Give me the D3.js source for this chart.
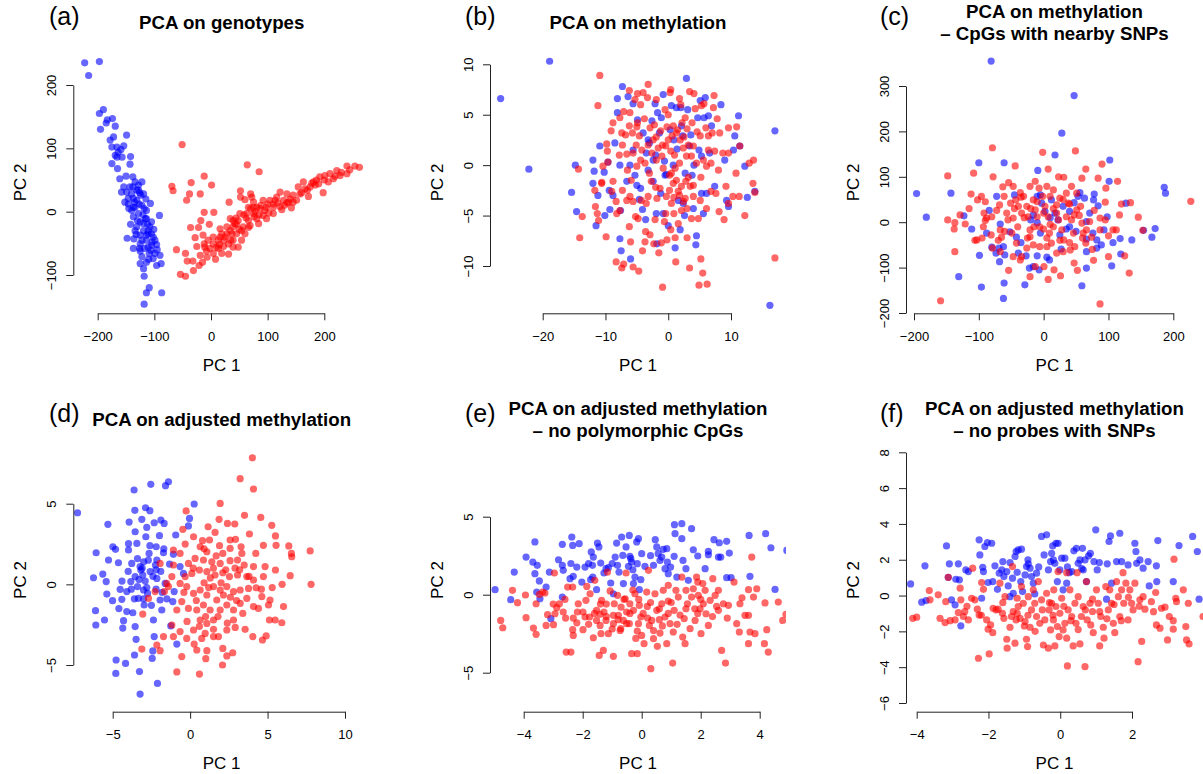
<!DOCTYPE html>
<html>
<head>
<meta charset="utf-8">
<script src="https://cdn.jsdelivr.net/npm/d3@7"></script>
<style>
  body { margin: 0; background: #fff; }
  svg text { font-family: "Liberation Sans", Arial, Helvetica, sans-serif; fill: #000; }
</style>
</head>
<body>
<svg id="chart" width="1203" height="774"></svg>
<script>
// (a) PCA on genotypes  -- [PC1, PC2]
const genoBlue = [[-223,235],[-197,237],[-216,215],[-190,161],[-197,155],[-195,130],[-183,145],[-174,147],[-169,135],[-172,118],[-175,102],[-149,121],[-154,104],[-164,94],[-166,86],[-175,76],[-142,87],[-143,75],[-165,68],[-150,56],[-138,55],[-122,47],[-154,39],[-138,39],[-131,34],[-149,31],[-124,26],[-137,21],[-152,15],[-146,12],[-134,7],[-107,13],[-118,5],[-128,-3],[-137,-8],[-91,-6],[-114,-11],[-125,-16],[-105,-16],[-131,-24],[-119,-30],[-101,-28],[-111,-35],[-125,-37],[-136,-43],[-148,-42],[-102,-40],[-114,-45],[-125,-51],[-105,-53],[-96,-52],[-137,-58],[-117,-58],[-109,-66],[-90,-69],[-122,-71],[-102,-74],[-114,-80],[-88,-82],[-96,-85],[-125,-82],[-119,-90],[-118,-102],[-109,-120],[-114,-128],[-87,-128],[-118,-146],[-143,39],[-134,47],[-128,42],[-140,28],[-131,18],[-122,10],[-114,2],[-130,-14],[-119,-19],[-108,-24],[-134,-30],[-114,-37],[-99,-45],[-122,-45],[-106,-61],[-99,-66],[-111,-56],[-126,-58],[-140,2],[-146,21],[-158,31],[-161,52],[-169,89],[-159,98],[-178,113],[-185,140],[-166,102],[-157,86],[-137,7],[-119,28],[-128,34],[-105,-35],[-111,-30],[-116,-11],[-127,12],[-120,-5],[-112,-20],[-104,-48],[-132,-36],[-142,-20],[-125,-62],[-110,-75],[-95,-60],[-135,15],[-145,5],[-126,30],[-115,20]];
const genoRed = [[-51,106],[-69,40],[-67,33],[-35,46],[-12,56],[1,42],[-38,28],[-19,28],[-43,18],[64,74],[85,63],[-12,-1],[5,-1],[32,15],[52,23],[70,28],[-18,-14],[-36,-25],[-22,-25],[-3,-20],[16,-27],[-28,-41],[-14,-37],[4,-40],[-61,-60],[-45,-66],[-42,-78],[-32,-78],[-19,-69],[-21,-85],[-31,-93],[-54,-99],[-45,-102],[-7,-72],[4,-66],[13,-58],[31,-67],[39,-56],[28,-35],[39,-24],[48,-14],[57,-24],[45,-35],[39,-45],[34,-11],[51,-3],[66,-14],[75,-3],[87,5],[98,7],[110,-3],[92,18],[104,18],[116,23],[128,18],[134,28],[145,26],[142,6],[157,28],[154,39],[163,47],[175,39],[181,47],[192,55],[201,57],[210,60],[219,56],[222,65],[240,72],[240,60],[254,72],[262,70],[207,47],[198,30],[172,24],[75,15],[81,7],[66,7],[63,-3],[81,-11],[92,-6],[110,12],[122,8],[134,14],[145,15],[75,7],[60,-35],[54,-45],[19,-66],[10,-56],[-2,-58],[-11,-56],[-12,-51],[16,-40],[23,-45],[37,-35],[42,-19],[54,-30],[69,-22],[84,-19],[98,-11],[110,7],[125,3],[72,23],[52,33],[60,19],[151,18],[166,36],[186,50],[216,52],[228,57],[184,42],[113,18],[122,31],[137,15],[34,-30],[28,-24],[39,-14],[19,-35],[4,-51],[13,-45],[31,-51],[48,-56],[45,-20],[62,-10],[78,0],[95,2],[88,10],[102,-2],[118,14],[130,10],[58,-5],[70,5],[85,-5],[100,12],[140,20],[160,30],[170,34],[190,44],[200,50],[178,45],[230,62],[245,66],[35,-45],[25,-40],[50,-28],[15,-52],[-5,-45],[-8,-62],[-25,-55],[-15,-80],[8,-75],[22,-55],[44,-10],[66,-25],[76,-8]];
const genoXTicks = [-200, -100, 0, 100, 200];
const genoYTicks = [-100, 0, 100, 200];

// (b) PCA on methylation
const methBlue = [[-26.7,6.6],[-18.9,10.3],[-22.2,-0.4],[-15.4,-2.7],[-14.8,0],[-14.6,-4.6],[-12,0.5],[-11.8,-0.6],[-12,-1.8],[-11.5,-6],[-11.2,-3],[-10.9,1.9],[-10.2,-0.7],[-10.1,-5],[-9.4,-2.5],[-9.6,0.3],[-9.3,-4.4],[-8.1,5.2],[-8.1,6.6],[-8.5,2.2],[-7.7,0],[-7.6,-4.5],[-7.5,-8.5],[-7.7,-7.3],[-7.3,7.8],[-6.6,-1.6],[-6.4,6.8],[-6.1,0],[-6,-9.3],[-5.6,6.1],[-5.3,-1],[-5.6,1.5],[-4.9,4.5],[-4.6,-3.4],[-4.4,-2.3],[-4.1,-4.4],[-4,3.2],[-3.5,1.2],[-3.2,2.5],[-3.2,-0.5],[-3,2.2],[-2.4,0.5],[-2.1,6.1],[-2.4,-1.6],[-1.9,-4.8],[-1.8,-7.8],[-1.7,5.2],[-1.4,3.2],[-1.1,4.7],[-0.8,7],[-0.8,-4.8],[-0.5,-1],[-0.3,-0.9],[0,-6],[0.3,3.5],[0.5,5.9],[0.9,2.5],[1.1,-8.2],[1.3,5.7],[1.6,-3.5],[1.9,-6.4],[2,5.7],[2.1,3.9],[2.3,2.9],[2.4,-3.8],[2.7,-0.8],[2.9,8.6],[3.1,5.5],[3.4,1.9],[3.6,3],[4,-4.3],[4.1,0],[4.4,-7.9],[4.5,-7],[4.7,4.7],[4.9,1.5],[5.1,6.4],[5.3,0.9],[5.3,-2.8],[5.6,-4.8],[5.7,4.7],[5.9,6.7],[6.1,-2.8],[6.4,4.9],[6.9,3.9],[7.4,-2.1],[8.4,6],[9,0.5],[9.3,-3.5],[9.6,-4.1],[10.4,1.5],[10.6,2.9],[11.2,4.9],[11.4,1.9],[12.2,-0.1],[13.8,-2.6],[12.6,-3.2],[17,3.4],[16.2,-13.9],[-2,1],[-0.6,0.4],[1.4,1.6],[3.8,-1],[-5,-2],[-1.2,-2.8],[2.6,-5],[-3.6,-5.4],[0.8,0],[-8.8,-3],[6.6,1.2],[-2.6,4.4]];
const methRed = [[-10.9,8.9],[-11.2,5.9],[-9.1,3.4],[-9.8,2.1],[-9.7,1.4],[-9.6,0.3],[-14.3,-0.4],[-13.7,-5.1],[-14.1,-7.2],[-11.7,-2.5],[-11.6,-4.1],[-11.3,-4.8],[-11.1,-5.5],[-10.6,-1.8],[-9.9,-7.1],[-8.3,-9.6],[-8.2,-4.8],[-7.7,-4.5],[-7.4,-10.2],[-7.1,-9.8],[-7.3,-2.5],[-6.6,-3.5],[-6.2,-6.1],[-6.1,-3.1],[-6,-7.6],[-5.6,-10.1],[-5.2,-5.1],[-4.7,-10.5],[-4.8,-5.3],[-4.1,-8.5],[-3.7,-7.6],[-3.6,-6.6],[-3.5,-3.8],[-2.9,-6.9],[-2.3,-7.8],[-2.1,-5.4],[-1.8,-3.3],[-1.5,-8.7],[-0.9,-12.1],[-1.1,-7.7],[-0.4,-4.8],[-0.2,-7.4],[0.2,-2.5],[0.4,-6.4],[0.8,-1.8],[1.1,-7.2],[1.2,-9.6],[1.6,-5.8],[2.1,-4.5],[3,-7.2],[3.4,-10.2],[3.7,-5.3],[4,-3.1],[4.9,-11.9],[5.2,-9.3],[5.5,-10.7],[6.2,-11.8],[6.1,-4.3],[6.8,-2.6],[7.6,-2.8],[8.1,-4.6],[8.9,-5.4],[9.2,-2.1],[9.6,-3.8],[10.3,-3.1],[10.8,-0.8],[11.3,-3.1],[12.2,-5],[12.9,0.2],[13.5,-1.8],[13.6,0.5],[13.8,-2.7],[17,-9.2],[11.4,1.9],[10.9,3.8],[9.6,3.7],[8.2,3.2],[7.8,4.6],[7.2,5.7],[7.3,6.9],[6.4,2.9],[6,3.7],[5.7,6.1],[5.3,5.9],[4.3,5.6],[4.1,7.1],[3.4,7.3],[2.7,4.7],[1.8,6.6],[0.4,7.5],[0.3,7.2],[-0.5,5.5],[-1.9,6.5],[-3.2,8],[-3.3,6.7],[-4,7.2],[-4.9,7.1],[-6.2,7.4],[-5.3,6.5],[-6.1,5.2],[-7.1,5.3],[-7.7,4.7],[-7.4,3.2],[-7.3,2],[-6.2,3.9],[-5.7,3.2],[-4.9,4.2],[-4.6,2.9],[-5.1,2],[-5.6,1.2],[-6.6,1.1],[-6.5,-0.5],[-5.9,-1.5],[-5,-0.1],[-4.4,0.5],[-3.7,0.2],[-3.2,2],[-2.9,3.7],[-2.4,2.5],[-1.9,2.8],[-1.6,1.7],[-0.9,2],[-0.4,1.9],[0,2.5],[0.4,1.4],[0.8,3.9],[1.3,3.2],[1.9,2.5],[2.4,1.7],[2.9,0.9],[3.7,0.9],[4,1.9],[4.5,0.2],[5.1,2.9],[5.6,0.5],[6.1,-0.1],[6.8,0.2],[7.4,1.4],[8,-0.5],[8.7,1.2],[9.6,1.2],[-1.9,0.5],[-0.8,-0.3],[0.5,-0.8],[1.1,-0.3],[1.3,-1.5],[2.1,-2.1],[2.8,-1.6],[3.5,-2.1],[4,-2],[1.8,-3],[0.5,-3.8],[-0.3,-3.1],[-1.3,-2.3],[-2.7,-1.6],[-3.2,-3.1],[-4.3,-3.5],[-5.6,-3.6],[-8.3,-3.6],[-8.8,-1.6],[-10.6,-1.7],[-10.4,-0.1],[5.1,-3.5],[3,-4.3],[4.8,-5.3],[0.9,-4.8],[2.7,-3.3],[1.5,3.5],[2.2,4.2],[0.6,2.9],[-0.2,3.8],[1,1],[2.5,2.8],[3.2,2],[-1.2,3.4],[-2.2,4],[-3.8,4.6],[-5,3.8],[-6.8,3],[-4.2,1.5],[-3,-0.8],[-2,-2.2],[0.2,-1],[1.6,-2.6],[2.4,-3.6],[3.2,-1.2],[0.9,-3.2],[-0.6,-5.6],[3.8,4.2],[4.6,3.3],[6.4,1.5],[7,3.2],[5.2,-1.2],[-1,0.9],[-7.8,1],[-9,-2.6],[1.8,0.2],[-2.6,1.2],[3,3.6],[0,5],[2,6],[-4.4,6],[-8.8,4.2]];
const methXTicks = [-20, -10, 0, 10];
const methYTicks = [-10, -5, 0, 5, 10];

// (c) PCA on methylation - CpGs with nearby SNPs
const snpBlue = [[-81,355],[47,279],[28,196],[17.5,148],[102,137],[101,90],[-100,131],[-61,131],[-9,114],[-196,63],[-143,64],[-181,11],[-123,14],[-111,-15],[-88,-24],[-72.5,57],[-84,26],[-67,-4],[-62,-54],[-69,-57],[-73.5,-68],[-68,-87],[-60,-72],[-99,-73],[-131,-120],[-96,-143],[-61,-134],[-62,-168],[-29,-138],[-39,-68],[-27,-74],[-22,-101],[-16,-98],[-10,-74],[5,-77],[9,-83],[-7,-105],[-10,57],[-3,42],[2,24],[-16,16],[-10,-1],[-5,-24],[12,49],[17.5,20],[30,35],[40,24],[40,-10],[47,43],[53,57],[56,65],[63,53],[78,62],[77,49],[71,20],[66,1.5],[76,-24],[82,-39],[66,-37],[66,-65],[82,-57],[93,-17],[89,-50],[98,12],[84,36],[107,-45],[118,-36],[105,-96],[119,-70],[127,42],[136,-39],[154,-18],[167,-33],[172,-14],[186,77],[188,64],[66,-101],[59,-140],[25,-28],[27,-59],[-42,-33],[-52,-21],[22,5],[-20,5],[10,10],[-35,-45],[35,-15],[-5,60],[50,-20],[-45,60],[-80,-55]];
const snpRed = [[-79,164],[-1.5,154],[49,157],[-44,124],[7,117],[90,128],[114,90],[-148,102],[-108,108],[-78,100],[23,100],[31,99],[65,117],[84,97],[-112,62],[-96,57],[-102,49],[-92,20],[-90,45],[-63,78],[-54,87],[-47,79],[-21,79],[-13,90],[5,79],[15,71],[35,64],[51,64],[59,97],[96,75],[95,44],[120,40],[134,43],[117,16],[146,11],[227,46],[153,-18],[125,-74],[132,-112],[100,-76],[87,-180],[77,-84],[52,-106],[47,-90],[26,-118],[16,-105],[7,-126],[0.5,-98],[-13,-98],[-21,-120],[-36,-83],[-54,-106],[-159,-173],[-137,-65],[-148,5],[-137,-1],[-138,-15],[-129,16],[-121,-4],[-106,-40],[-103,-39],[-81,-28],[-79,-57],[-93,-10],[-90,4],[-80,12],[-72.5,26],[-67,-17],[-65,-33],[-57,20],[-51,42],[-47,9],[-49,-24],[-42,-46],[-39,35],[-34,20],[-31,57],[-26,35],[-24,12],[-21,-17],[-21,-32],[-16,49],[-13,27],[-10,12],[-6,-10],[-1.5,57],[2,35],[7,12],[9,-24],[12,-46],[15,-10],[20,38],[23,5],[28,-17],[31,-39],[35,12],[38,42],[43,5],[46,-24],[48,-54],[51,27],[59,-2],[61,-24],[65,-46],[71,1.5],[78,26],[87,9],[87,-17],[74,-33],[41,-61],[30,-65],[20,-68],[5,-54],[-6,-54],[-16,-50],[-26,-57],[-34,-76],[-47,-76],[-67,-65],[-88,9],[-68,38],[-61,57],[-43,49],[-36,65],[-7,75],[10,57],[25,53],[43,79],[47,16],[57,35],[66,-17],[107,-17],[112,-17],[-30,10],[-20,30],[-10,45],[0,20],[10,-5],[20,20],[30,50],[-40,-10],[-55,5],[-45,30],[-25,-35],[5,-35],[25,-40],[40,40],[55,15],[-15,-10],[15,30],[-35,55],[0,-15],[60,-35],[-70,-40],[-95,-35],[-60,-20],[40,-45],[75,-60],[100,-30],[-115,30],[95,5]];
const snpXTicks = [-200, -100, 0, 100, 200];
const snpYTicks = [-200, -100, 0, 100, 200, 300];

// (d) PCA on adjusted methylation
const adjBlue = [[-7.27,4.44],[-6.07,1.96],[-6.24,0.41],[-6.11,-1.63],[-6.09,-2.52],[-5.53,-2.21],[-5.64,0.64],[-5.42,0.17],[-5.27,1.51],[-5.31,3.72],[-5.38,-0.6],[-5.01,-1.01],[-4.99,2.33],[-4.82,2.17],[-4.78,-4.69],[-4.8,-5.52],[-4.63,1.34],[-4.52,-0.31],[-4.41,-0.93],[-4.35,-2.71],[-4.3,-2.25],[-4.17,-4.9],[-4.09,-1.69],[-4.09,-0.45],[-3.98,2.13],[-3.94,3.86],[-3.98,2.52],[-3.83,0.17],[-3.77,1.3],[-3.7,-1.76],[-3.62,5.85],[-3.57,4.59],[-3.59,-4.38],[-3.55,3.26],[-3.55,-2.62],[-3.49,-3.41],[-3.44,2.54],[-3.4,-0.14],[-3.34,-0.87],[-3.27,-5.41],[-3.23,-6.8],[-3.23,1.1],[-3.18,0.89],[-3.12,4.03],[-3.06,0.58],[-3.01,-0.35],[-2.97,-1.28],[-2.88,4.75],[-2.86,2.95],[-2.8,3.53],[-2.75,-0.56],[-2.65,1.92],[-2.6,4.57],[-2.54,6.2],[-2.45,-4.59],[-2.41,-4.13],[-2.37,-2.21],[-2.32,-3.24],[-2.32,3.82],[-2.24,1.2],[-2.19,2.33],[-2.15,0.37],[-2.11,-6.14],[-1.98,3.02],[-1.94,-0.97],[-1.89,3.99],[-1.83,-1.59],[-1.72,1.96],[-1.68,3.78],[-1.61,0.06],[-1.59,6.12],[-1.4,6.36],[-1.33,1.26],[-1.25,-2.58],[-1.12,-1.07],[-1.08,1.86],[-1.03,-0.45],[-0.93,3.06],[-0.86,-3.7],[-0.65,1.1],[-0.43,0.68],[-0.11,3.62],[-0.04,4.09],[0.26,4.98],[-2.15,1.51],[-2.58,0.79],[-3.55,0.48],[-3.1,1],[-2.9,0.2],[-2.7,1.5],[-2.4,0.5],[-3.3,0.3],[-2.2,-0.3],[-1.9,0.8],[-1.5,-0.9],[-1.7,2.2],[-3.6,-0.9],[-4,0.8],[-2.5,-1.3],[-3.4,1.6],[-3,1.4],[-2.8,-0.2],[-3.8,-0.3],[-2.6,2.4],[-4.4,0.2],[-2.2,0.9],[-1.8,-0.5],[-3,-0.9],[-4.6,-1.5]];
const adjRed = [[4.02,7.85],[3.23,6.55],[4.09,5.91],[1.94,5.02],[-0.26,4.55],[3.51,4.28],[4.56,4.15],[1.87,4.03],[2.41,3.78],[2.88,3.74],[1.16,3.57],[5.27,3.66],[-0.47,3.41],[1.61,3.22],[3.83,3.12],[5.51,3],[0.22,2.95],[0.8,2.71],[1.25,2.75],[2.58,2.75],[2.93,2.79],[4.73,2.42],[5.55,2.42],[6.37,2.38],[7.75,2.07],[6.54,1.92],[6.56,1.71],[-0.32,2.5],[0.65,2.33],[1.08,2.02],[1.68,1.76],[2.11,1.92],[2.58,2.23],[3.29,2.33],[3.34,1.92],[4.24,1.92],[-0.65,1.92],[-1.08,2.13],[0.32,1.61],[0.86,1.51],[1.4,1.4],[1.94,1.3],[2.58,1.47],[3.06,1.51],[3.49,1.2],[4.09,1.1],[4.84,1.1],[5.51,0.89],[6.46,0.54],[7.81,0],[5.94,0],[4.73,0.48],[4.09,0.27],[3.66,0.48],[3.06,0.58],[2.54,0.48],[2.11,0.72],[1.61,0.58],[1.08,0.79],[0.6,0.89],[0.11,0.68],[-0.32,0.48],[-0.65,0.06],[-0.22,-0.14],[0.22,-0.56],[0.65,-0.35],[1.08,-0.66],[1.51,-0.14],[1.94,-0.35],[2.37,-0.14],[2.8,-0.45],[3.23,-0.35],[3.77,-0.25],[4.26,-0.21],[4.63,-0.76],[5.16,-0.97],[5.06,-1.28],[6.03,-1.38],[5.12,-2.21],[5.49,-2.21],[5.92,-2.38],[4.91,-3.2],[4.67,-3.45],[4.05,-3.24],[3.55,-2.79],[2.91,-2.67],[2.37,-2.83],[2.75,-4.24],[2.37,-4.44],[2.11,-3.97],[2.09,-5],[1.51,-3.24],[1.08,-4.11],[1.01,-4.61],[0.6,-5.56],[0.43,-4.07],[0.26,-3.7],[-0.22,-3.35],[-0.54,-4.48],[-0.86,-5.43],[-0.65,-2.93],[-1.08,-3.24],[-1.18,-2.52],[-1.72,-3.24],[-1.94,-4.11],[-2.15,-3.76],[-3.12,-4.01],[-3.06,-1.84],[-2.69,-0.87],[-2.26,-0.45],[-1.66,-0.45],[-1.4,-0.14],[-1.18,0.48],[-1.08,1.2],[-0.86,-1.59],[-0.54,-1.07],[-0.11,-1.49],[0.43,-1.59],[0.86,-1.28],[1.29,-1.59],[0.65,-2.21],[1.08,-2.42],[1.51,-2.21],[1.94,-1.59],[2.37,-1.28],[2.8,-1.59],[3.23,-1.18],[3.66,-0.87],[4.09,-1.38],[4.41,-1.49],[1.72,-0.97],[2.15,-0.66],[0.97,-3.04],[1.83,-3.24],[2.8,-2.21],[1.51,-2.79],[0.22,-2.83],[0.75,-3.35],[-1.51,0.06],[-1.94,1.3],[-0.11,1.3],[0.9,0.1],[1.3,0.4],[2,0.1],[2.6,-0.8],[3,-1],[0.4,-1],[1,-2],[1.8,-2],[2.4,-2.4],[3.2,0.9],[0.2,1],[1.5,1],[2.9,1],[3.8,0.5],[-0.4,-0.5],[1.2,-0.2],[2.3,0.9],[0.6,-2.6],[3.4,-1.8],[4.6,-0.3],[1.9,2.4],[0.9,2.2],[-0.2,-2.3],[5.3,-0.2]];
const adjXTicks = [-5, 0, 5, 10];
const adjYTicks = [-5, 0, 5];

// (e) PCA on adjusted methylation - no polymorphic CpGs
const polyBlue = [[-4.97,0.32],[-4.44,-0.32],[-4.32,1.45],[-3.92,2.41],[-3.69,2.09],[-3.62,3.38],[-3.62,1.35],[-3.54,1.88],[-3.56,0.17],[-3.47,0.88],[-3.45,-0.26],[-3.24,0.49],[-3.13,1.45],[-3.08,-1.54],[-2.82,2.24],[-2.69,3.23],[-2.69,1.88],[-2.66,1.56],[-2.69,-0.15],[-2.43,1.03],[-2.37,3.7],[-2.34,3.16],[-2.32,1.18],[-2.2,1.77],[-2.12,3.27],[-2.03,0.81],[-1.92,1.77],[-1.73,0.96],[-1.71,2.74],[-1.67,1.88],[-1.64,2.41],[-1.66,1.13],[-1.53,0.32],[-1.5,3.31],[-1.45,3.06],[-1.39,2.03],[-1.28,1.39],[-1.21,1.67],[-1.13,1.73],[-1.05,0.75],[-0.96,0.06],[-0.9,2.41],[-0.85,3.31],[-0.82,1.88],[-0.77,1.45],[-0.68,3.7],[-0.64,2.52],[-0.62,0.71],[-0.53,3.06],[-0.45,1.82],[-0.42,3.8],[-0.4,2.46],[-0.37,2.31],[-0.34,2.09],[-0.28,0.71],[-0.23,1.13],[-0.17,3.38],[-0.15,1.99],[-0.11,3.59],[-0.08,0.32],[-0.03,0.96],[0,2.63],[0.11,1.82],[0.4,1.88],[0.46,3.53],[0.51,3.06],[0.56,2.63],[0.62,2.2],[0.68,2.41],[0.73,2.91],[0.79,1.67],[0.85,2.95],[0.87,2.09],[0.9,1.35],[0.98,1.77],[1.1,2.46],[1.13,3.91],[1.11,4.49],[1.19,1.13],[1.36,4.55],[1.36,3.59],[1.5,1.67],[1.58,0.92],[1.69,4.23],[1.75,2.88],[1.9,2.48],[2.15,1.67],[2.26,2.56],[2.26,2.78],[2.45,3.53],[2.6,2.41],[2.63,3.33],[2.68,2.41],[2.88,3.42],[2.88,1.09],[2.97,2.67],[3.03,1.09],[3.64,3.8],[3.67,1.18],[4.2,3.91],[4.38,3.01],[4.52,0.34],[4.92,2.84],[-1,2],[-0.3,1.6],[0.3,2.5],[-1.8,2],[1.4,2.2],[-2.4,2]];
const polyRed = [[-4.78,-1.65],[-4.71,-2.12],[-4.38,0.28],[-4.21,-0.51],[-3.94,-0.02],[-3.92,-1.47],[-3.67,-2.14],[-3.58,-2.54],[-3.58,-0.58],[-3.47,0.02],[-3.36,0.17],[-3.28,0.11],[-3.19,-1.28],[-3.24,-1.97],[-2.99,-1.92],[-2.94,-1.22],[-2.96,1.39],[-2.88,-0.83],[-2.79,-0.58],[-2.66,-1.11],[-2.58,-1.5],[-2.51,0.49],[-2.56,-3.68],[-2.4,-3.68],[-2.34,-2.24],[-2.32,-2.61],[-2.32,-1.5],[-2.34,0.49],[-2.18,-1.11],[-2.15,-0.58],[-1.99,-2.24],[-1.99,-1.11],[-1.92,-1.43],[-1.89,-0.36],[-1.86,0.53],[-1.77,-1.43],[-1.75,0.06],[-1.64,-2.76],[-1.59,0.92],[-1.53,-1.65],[-1.53,-1],[-1.44,-3.89],[-1.41,-1.97],[-1.38,-2.5],[-1.36,-0.36],[-1.3,-3.57],[-1.28,-1.11],[-1.21,-1.65],[-1.16,1.45],[-1.13,-2.5],[-1.07,0.24],[-0.96,-3.95],[-0.96,-1.32],[-0.93,-0.58],[-0.82,-0.04],[-0.79,-1.32],[-0.73,-2.29],[-0.71,-2.18],[-0.62,-1.65],[-0.56,-0.26],[-0.53,1.39],[-0.51,-1.11],[-0.42,-1.86],[-0.4,-0.58],[-0.34,-3.78],[-0.28,-1],[-0.23,0.06],[-0.15,-3.78],[-0.15,-2.33],[-0.11,-1.86],[-0.08,-0.68],[-0.03,-1.43],[0,-2.61],[0.08,-3.14],[0.17,0.17],[0.19,-0.75],[0.23,1.56],[0.26,-1.97],[0.31,-4.74],[0.34,-1.65],[0.4,-2.82],[0.45,0.06],[0.51,-1],[0.53,-3.31],[0.6,-1.6],[0.62,-2.46],[0.68,-0.58],[0.73,0.28],[0.79,-1.43],[0.85,-3.14],[0.9,-0.41],[0.96,-1.86],[1.05,-4.38],[1.07,-2.39],[1.1,-1],[1.16,0.28],[1.24,-0.15],[1.36,1.13],[1.39,-2.71],[1.44,-1.54],[1.47,-3.14],[1.5,0.28],[1.55,-0.58],[1.64,-2.18],[1.69,-0.15],[1.75,0.38],[1.81,-1.65],[1.86,1.13],[1.9,0.81],[1.92,-0.04],[1.98,-0.9],[2.01,-2.5],[2.07,0.71],[2.09,-0.58],[2.15,0.28],[2.18,-1.22],[2.26,-1.97],[2.32,-0.36],[2.41,1.03],[2.49,-0.04],[2.54,-0.75],[2.6,0.28],[2.71,-3.57],[2.77,-0.58],[2.84,-4.38],[2.94,-0.68],[3.13,0.81],[3.22,-1.86],[3.31,-2.39],[3.33,-0.58],[3.5,-1.32],[3.62,-1.32],[3.62,0.32],[3.62,-3.14],[3.67,-2.39],[3.73,2.41],[3.79,-0.15],[3.84,-2.5],[3.9,0.38],[4.16,-3.14],[4.18,-0.53],[4.24,-2.24],[4.29,-3.68],[4.63,-0.47],[4.78,-1.65],[4.89,-1.26],[-1.41,-1.26],[-0.96,-1.86],[-0.51,-1.86],[0.05,-1.2],[0.3,-0.5],[-0.7,-0.8],[-1.2,-0.6],[1.3,-1.3],[0.7,-2],[-0.2,-2.8],[1.8,-0.9],[2.4,-1.4],[-1.8,-1.9],[-2.6,-0.3],[0.9,0.6],[-0.3,0.3],[-1.6,-1.2],[-1.2,-1.4],[-0.8,-1.6],[-0.4,-1.2],[0.2,-1.5],[0.6,-0.9],[1,-0.5],[1.5,-0.9],[2,-0.3],[2.6,-1],[-2.2,-1.8],[-1,-2.2],[0.4,-2.3],[1.2,-1.9],[-0.6,-0.3],[0.9,-1.2],[1.9,-1.2],[-1.4,-0.6],[-0.1,-0.3],[2.9,-1.5],[3.4,-0.2],[-3,-0.6]];
const polyXTicks = [-4, -2, 0, 2, 4];
const polyYTicks = [-5, 0, 5];

// (f) PCA on adjusted methylation - no probes with SNPs
const probeBlue = [[-4.17,0.65],[-3.86,-0.37],[-3.77,1.66],[-3.74,-0.28],[-3.17,2.77],[-3.12,1.02],[-3.09,1.77],[-3.03,-0.24],[-2.93,-0.52],[-2.91,0.91],[-2.84,1.77],[-2.81,0.88],[-2.77,-1.69],[-2.63,1.43],[-2.56,1.34],[-2.26,3.11],[-2.24,2.27],[-2.19,-0.15],[-2.16,1.58],[-2.14,1.34],[-2.1,2.74],[-2.03,2.96],[-2.01,0.73],[-1.91,2.92],[-1.88,0.78],[-1.82,1.66],[-1.75,0.35],[-1.7,1.25],[-1.63,1.43],[-1.57,1.06],[-1.49,1.34],[-1.45,0.54],[-1.4,1.84],[-1.4,-0.06],[-1.33,0.97],[-1.31,0.13],[-1.26,2.18],[-1.23,2.46],[-1.17,2.55],[-1.1,0.78],[-1.08,2.59],[-1.05,0.22],[-0.98,1.15],[-0.94,1.62],[-0.89,1.77],[-0.84,1.53],[-0.8,1.06],[-0.75,0.69],[-0.71,0.09],[-0.66,1.25],[-0.52,3.3],[-0.45,2.27],[-0.38,3.39],[-0.33,1.43],[-0.27,1.9],[-0.24,2.36],[-0.21,2.77],[-0.19,1.99],[-0.15,1.8],[-0.12,2.92],[-0.08,0.78],[-0.06,2.92],[-0.01,1.43],[0.04,2.09],[0.08,0.32],[0.13,2.09],[0.18,0.69],[0.25,1.28],[0.32,1.34],[0.38,2.5],[0.45,2.64],[0.5,1.8],[0.55,1.99],[0.62,2.64],[0.64,1.43],[0.69,1.99],[0.73,0.78],[0.79,2.22],[0.84,2.36],[0.94,1.9],[0.99,3.67],[1.03,1.43],[1.09,1.84],[1.31,1.77],[1.36,3.02],[1.4,3.33],[1.43,0.69],[1.29,-0.2],[1.57,1.9],[1.66,3.48],[1.71,1.9],[1.89,1.71],[2.08,2.92],[2.11,2.46],[2.13,1.8],[2.22,1.99],[2.31,1.53],[2.45,1.9],[2.48,0.54],[2.68,1.66],[2.69,0.78],[2.72,3.07],[3.15,0.78],[3.31,2.79],[3.69,3.3],[3.82,2.46],[3.87,-0.2],[-1.2,1.3],[-0.6,1.6],[0.2,1.6],[-0.9,2],[0.6,1.5],[-1.6,1.9]];
const probeRed = [[-4.11,-1.27],[-4,-1.21],[-3.65,0.28],[-3.63,-0.24],[-3.4,0.04],[-3.35,-1.27],[-3.21,-1.51],[-3.19,-0.34],[-3.12,1.02],[-3.07,-1.4],[-2.93,-1.36],[-2.84,-0.95],[-2.79,0.41],[-2.77,-0.24],[-2.7,-1.17],[-2.66,-0.89],[-2.56,-1.36],[-2.47,-0.15],[-2.44,1.53],[-2.38,-0.24],[-2.31,-0.76],[-2.28,-3.5],[-2.26,-1.08],[-2.19,0.73],[-2.14,0.35],[-2.05,-1.36],[-2.01,-1.88],[-1.98,-3.26],[-1.94,-1.64],[-1.88,-2.07],[-1.87,-0.71],[-1.79,-0.8],[-1.73,-0.76],[-1.68,0.69],[-1.61,-0.99],[-1.57,-1.27],[-1.54,-0.06],[-1.49,-2.44],[-1.48,-2.94],[-1.4,-1.77],[-1.36,-1.17],[-1.33,1.62],[-1.31,-0.89],[-1.26,-2.66],[-1.23,-1.36],[-1.2,-0.15],[-1.17,-0.61],[-1.12,-1.27],[-1.08,0.5],[-1.03,-0.43],[-0.98,-1.45],[-0.94,-2.44],[-0.91,-2.85],[-0.89,-0.06],[-0.84,-1.77],[-0.8,-0.8],[-0.75,0.32],[-0.71,-0.43],[-0.66,-1.17],[-0.61,0.78],[-0.57,-1.55],[-0.52,-0.24],[-0.47,-2.76],[-0.43,-1.36],[-0.38,0.13],[-0.33,-2.94],[-0.31,-0.8],[-0.27,-1.92],[-0.24,-0.43],[-0.19,-1.36],[-0.18,0.32],[-0.15,-2.81],[-0.12,-0.61],[-0.08,-1.73],[-0.06,1.34],[-0.03,-2.29],[-0.01,-0.99],[0.04,-0.15],[0.08,-1.92],[0.13,-1.55],[0.18,1.28],[0.18,-2.38],[0.2,-3.93],[0.22,-0.8],[0.27,0.32],[0.32,-1.17],[0.36,-2.81],[0.41,-0.43],[0.44,-1.55],[0.47,1.28],[0.5,-0.06],[0.55,-2.7],[0.59,-1.17],[0.64,-0.61],[0.69,-3.97],[0.73,0.78],[0.75,-1.36],[0.83,-0.43],[0.85,-1.64],[0.9,-0.89],[0.92,-2.07],[1.01,0.32],[1.06,-0.43],[1.1,-2.81],[1.13,-1.17],[1.2,-1.77],[1.22,-2.38],[1.27,0.5],[1.34,-0.8],[1.38,0.32],[1.43,-0.43],[1.48,-1.55],[1.52,-2.07],[1.57,0.78],[1.62,-0.06],[1.66,-1.17],[1.71,0.32],[1.75,1.28],[1.77,-0.43],[1.83,0.69],[1.89,-1.36],[1.94,0.32],[1.99,-0.43],[2.03,-0.8],[2.08,0.69],[2.17,-3.69],[2.22,-0.24],[2.27,-2.56],[2.31,-0.06],[2.36,-0.76],[2.54,-0.34],[2.66,0.17],[2.68,-1.64],[2.78,-1.82],[2.82,-0.71],[2.92,-0.65],[2.99,-2.48],[3.04,-1.17],[3.15,-1.4],[3.15,-1.88],[3.17,2.03],[3.22,-0.15],[3.24,-0.34],[3.43,0.32],[3.5,-1.73],[3.52,-2.48],[3.57,-0.43],[3.59,-2.7],[3.98,-1.17],[-1.2,-1],[-0.9,-1.1],[-0.5,-0.8],[-0.2,-1.1],[0.3,-1.4],[0.7,-0.8],[1.1,-0.9],[1.5,-0.5],[1.9,-0.1],[2.2,-0.6],[-1.6,-0.4],[-2.2,-1.1],[-0.7,-2],[0.5,-1.9],[1.3,-1.3],[-0.3,-0.4],[0.1,-0.6],[0.9,-0.2],[-1,-1.7],[1.7,-1.4],[2.6,-0.9],[-2.6,-0.6]];
const probeXTicks = [-4, -2, 0, 2];
const probeYTicks = [-6, -4, -2, 0, 2, 4, 6, 8];

// layout: columns / rows of the 2x3 grid (pixel positions)
const colLeft = [73.3, 490, 906];
const colRight = [370, 786, 1203];
const tagLeft = [49, 465, 880];
const rowAxisY = [313.3, 711.7];
const rowTop = [51.5, 448.3];
const rowShift = [0, 397];

const panels = [
  { tag: '(a)', title: ['PCA on genotypes'], blue: genoBlue, red: genoRed, xTicks: genoXTicks, yTicks: genoYTicks, col: 0, row: 0, xr: [97.7, 324.3], yr: [275, 85] },
  { tag: '(b)', title: ['PCA on methylation'], blue: methBlue, red: methRed, xTicks: methXTicks, yTicks: methYTicks, col: 1, row: 0, xr: [542.7, 731], yr: [266, 64.3] },
  { tag: '(c)', title: ['PCA on methylation', '\u2013 CpGs with nearby SNPs'], blue: snpBlue, red: snpRed, xTicks: snpXTicks, yTicks: snpYTicks, col: 2, row: 0, xr: [914, 1173.3], yr: [313, 86] },
  { tag: '(d)', title: ['PCA on adjusted methylation'], blue: adjBlue, red: adjRed, xTicks: adjXTicks, yTicks: adjYTicks, col: 0, row: 1, xr: [112.7, 345], yr: [665, 503.7] },
  { tag: '(e)', title: ['PCA on adjusted methylation', '\u2013 no polymorphic CpGs'], blue: polyBlue, red: polyRed, xTicks: polyXTicks, yTicks: polyYTicks, col: 1, row: 1, xr: [523.7, 759.7], yr: [672.7, 516.7] },
  { tag: '(f)', title: ['PCA on adjusted methylation', '\u2013 no probes with SNPs'], blue: probeBlue, red: probeRed, xTicks: probeXTicks, yTicks: probeYTicks, col: 2, row: 1, xr: [916.7, 1132], yr: [703, 452.3] }
];

const svg = d3.select('#chart');
const FONT = '"Liberation Sans", Arial, Helvetica, sans-serif';
const tickFmt = d3.format('~g');

panels.forEach((p, i) => {
  const left = colLeft[p.col], right = colRight[p.col];
  const axisY = rowAxisY[p.row], top = rowTop[p.row], shift = rowShift[p.row];
  const cx = (left + right) / 2, cy = (top + axisY) / 2;

  const x = d3.scaleLinear().domain(d3.extent(p.xTicks)).range(p.xr);
  const y = d3.scaleLinear().domain(d3.extent(p.yTicks)).range(p.yr);

  const g = svg.append('g').attr('class', 'panel');

  // clip points to the plot region
  svg.append('clipPath').attr('id', 'clip' + i)
    .append('rect')
    .attr('x', left).attr('y', top)
    .attr('width', right - left).attr('height', axisY - top);

  const pts = g.append('g').attr('clip-path', 'url(#clip' + i + ')');
  pts.selectAll('.blue')
    .data(p.blue)
    .enter()
    .append('circle')
    .attr('class', 'blue')
    .attr('cx', d => x(d[0]))
    .attr('cy', d => y(d[1]))
    .attr('r', 3.6)
    .attr('fill', 'rgb(0,0,255)')
    .attr('fill-opacity', 0.6);
  pts.selectAll('.red')
    .data(p.red)
    .enter()
    .append('circle')
    .attr('class', 'red')
    .attr('cx', d => x(d[0]))
    .attr('cy', d => y(d[1]))
    .attr('r', 3.6)
    .attr('fill', 'rgb(255,0,0)')
    .attr('fill-opacity', 0.6);

  // x axis
  const gx = g.append('g')
    .attr('transform', 'translate(0,' + axisY + ')')
    .call(d3.axisBottom(x).tickValues(p.xTicks).tickFormat(tickFmt).tickSize(7).tickSizeOuter(0).tickPadding(11.5));
  gx.attr('font-size', 13).attr('font-family', FONT);
  gx.selectAll('path, line').attr('stroke', '#222');

  // y axis, labels parallel to the axis
  const gy = g.append('g')
    .attr('transform', 'translate(' + left + ',0)')
    .call(d3.axisLeft(y).tickValues(p.yTicks).tickFormat(tickFmt).tickSize(7).tickSizeOuter(0));
  gy.attr('font-size', 13).attr('font-family', FONT);
  gy.selectAll('path, line').attr('stroke', '#222');
  gy.selectAll('.tick text')
    .attr('transform', 'rotate(-90)')
    .attr('x', 0)
    .attr('y', -17)
    .attr('dy', 0)
    .attr('text-anchor', 'middle');

  // axis titles
  g.append('text')
    .attr('x', cx).attr('y', axisY + 57.4)
    .attr('text-anchor', 'middle')
    .attr('font-size', 17)
    .text('PC 1');
  g.append('text')
    .attr('transform', 'translate(' + (left - 47) + ',' + cy + ') rotate(-90)')
    .attr('text-anchor', 'middle')
    .attr('font-size', 17)
    .text('PC 2');

  // main title (one or two lines)
  const lines = p.title;
  const firstY = lines.length === 1 ? 29 + shift : 18.3 + shift;
  lines.forEach((t, k) => {
    g.append('text')
      .attr('x', cx).attr('y', firstY + k * 21.3)
      .attr('text-anchor', 'middle')
      .attr('font-size', 18.7)
      .attr('font-weight', 'bold')
      .text(t);
  });

  // panel letter
  g.append('text')
    .attr('x', tagLeft[p.col]).attr('y', 24.5 + shift)
    .attr('font-size', 25)
    .text(p.tag);
});
</script>
</body>
</html>
